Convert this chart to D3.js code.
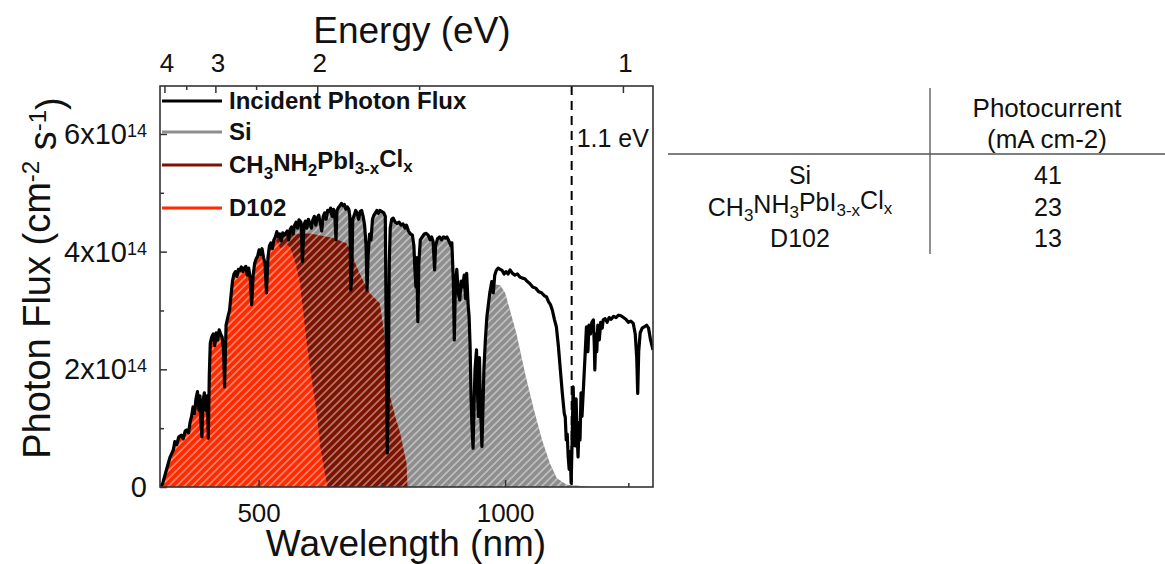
<!DOCTYPE html>
<html lang="en">
<meta charset="utf-8">
<head>
    <script src="https://d3js.org/d3.v7.min.js"></script>
</head>
<body style="margin:0;background:#fff">
<style>
    text { font-family: "Liberation Sans", Arial, sans-serif; fill: #111; }
</style>
<svg width="1165" height="564"></svg>
</body>

<script>
// wavelength (nm) and incident photon flux (x10^14 cm-2 s-1)
var wl = [300,305,310,315,320,327,330,334,338,343,347,351,354,358,361,364,367,370,373,376,379,381,383,385,387,390,393,396,398,400,
    402,405,408,411,414,417,420,423,426,429,431,434,438,441,444,447,450,453,456,459,462,465,468,471,474,477,480,483,486,489,
    492,495,498,501,504,507,510,513,516,519,522,525,528,531,534,537,540,543,546,549,552,555,558,561,564,567,570,573,576,579,
    582,586,589,592,595,598,601,604,607,610,613,616,619,622,625,628,631,634,637,640,643,646,649,652,655,657,659,662,665,668,
    671,674,677,680,683,685,687,689,691,694,697,700,703,706,709,712,715,718,720,722,725,728,731,734,737,740,743,746,750,754,
    757,759,761,763,765,767,770,773,777,781,785,789,793,797,800,804,808,812,815,817,819,821,823,825,828,832,836,840,844,848,
    851,854,857,859,863,867,871,875,879,882,886,890,892,895,897,899,902,905,908,911,914,917,920,922,925,927,929,931,933,935,
    937,939,942,944,946,948,950,953,955,957,960,963,966,969,973,976,979,982,986,990,994,998,1002,1006,1010,1015,1020,1025,1030,1035,
    1040,1044,1050,1056,1062,1068,1074,1080,1084,1088,1092,1096,1100,1104,1108,1112,1116,1120,1122,1124,1126,1128,1130,1132,1134,1136,
    1138,1140,1142,1144,1146,1148,1150,1152,1154,1156,1159,1162,1165,1168,1170,1173,1176,1179,1181,1182,1184,1186,1188,1191,1194,1197,
    1199,1203,1207,1211,1215,1220,1225,1230,1235,1240,1245,1250,1255,1260,1264,1267,1269,1271,1274,1278,1282,1287,1291,1295,1298,1300];
var flux = [0,0.05,0.2,0.35,0.5,0.63,0.77,0.72,0.85,0.88,0.82,0.95,0.97,0.92,1.1,1.2,1.36,1.25,1.5,1.62,1.3,1.55,1.1,0.85,1.45,1.6,1.3,1.55,0.83,1.9,
    2.45,2.55,2.6,2.4,2.62,2.5,2.67,2.6,2.55,2.3,1.7,2.75,2.9,3.0,3.25,3.5,3.62,3.66,3.58,3.7,3.68,3.74,3.66,3.72,3.75,3.6,3.72,3.55,3.1,3.6,
    3.8,3.88,3.92,4.03,3.95,4.05,3.9,3.8,3.3,3.9,4.1,4.15,4.05,4.2,4.25,4.34,4.25,4.3,4.18,4.32,4.28,4.31,4.35,4.2,4.38,4.42,4.3,4.45,4.5,4.4,
    4.54,4.5,3.83,4.45,4.52,4.4,4.55,4.48,4.4,4.54,4.6,4.45,4.58,4.62,4.5,4.35,4.6,4.66,4.55,4.7,4.68,4.74,4.6,4.72,4.55,4.2,4.7,4.75,4.78,4.82,
    4.78,4.8,4.72,4.76,4.72,4.6,3.35,3.6,4.55,4.62,4.7,4.65,4.55,4.68,4.7,4.6,4.45,4.1,3.35,3.9,4.3,4.2,4.55,4.62,4.66,4.7,4.65,4.7,4.68,4.66,
    4.6,2.5,0.58,1.5,3.8,4.4,4.55,4.57,4.5,4.48,4.5,4.45,4.47,4.4,4.45,4.35,4.3,4.28,4.1,3.7,3.4,3.9,2.81,3.8,4.2,4.25,4.3,4.31,4.28,4.2,
    4.25,4.17,3.69,4.1,4.22,4.25,4.2,4.25,4.23,4.25,4.18,4.1,4.15,3.5,2.5,3.4,3.7,3.3,3.18,3.5,3.4,3.6,3.2,3.63,3.1,2.89,2.4,1.5,1.0,0.66,
    1.4,2.0,2.33,1.6,1.2,2.2,1.4,0.69,1.3,2.0,2.5,2.89,3.1,3.3,3.49,3.3,3.6,3.68,3.72,3.7,3.68,3.62,3.66,3.62,3.69,3.63,3.6,3.62,3.57,3.55,
    3.54,3.5,3.46,3.4,3.38,3.32,3.3,3.25,3.23,3.15,3.1,3.0,2.85,2.72,2.4,2.0,1.6,1.25,1.19,0.8,0.9,0.51,0.3,0.6,0.07,0.8,
    1.7,1.2,0.7,1.5,0.9,0.51,1.1,0.8,1.6,1.2,1.7,2.2,2.72,2.3,2.75,2.6,2.8,2.84,2.4,1.99,2.6,2.3,2.75,2.5,2.8,2.7,
    2.84,2.86,2.8,2.88,2.85,2.9,2.88,2.92,2.91,2.88,2.85,2.8,2.82,2.78,2.6,2.2,1.59,2.3,2.62,2.7,2.72,2.75,2.7,2.5,2.4,2.33];

// upper limit of each absorber's share of the flux (x10^14)
var siEnvWl = [300,960,975,990,1000,1010,1023,1040,1057,1075,1091,1105,1125,1150,1170];
var siEnv   = [7,7,3.45,3.43,3.3,3.0,2.61,1.95,1.36,0.8,0.4,0.15,0.04,0.02,0];
var ptEnvWl = [300,550,560,604,651,679,690,699,712,726,746,755,767,777,787,795,800,802];
var ptEnv   = [7,7,4.3,4.31,4.23,4.14,3.95,3.74,3.5,3.29,3.12,2.6,1.53,1.2,0.92,0.6,0.41,0];
var dyeEnvWl = [300,525,535,545,557,564,575,584,597,604,618,625,633,640];
var dyeEnv   = [7,7,4.2,4.05,4.12,4.08,3.8,3.46,2.5,2.04,1.25,0.69,0.3,0];

var energyTicks = [4, 3, 2, 1];
var energyMinor = [3.5, 2.5, 1.5];
var wlTicks = [500, 1000];
var wlMinor = [750, 1250];
var fluxTicks = [0, 2, 4, 6];
var fluxMinor = [1, 3, 5];
var gapLabel = "1.1 eV";
var gapWl = 1135;

var seriesColors = ["#000000", "#8e8e8e", "#7c1200", "#ff2a00"];
var legendNames = [
    [["Incident Photon Flux", 0]],
    [["Si", 0]],
    [["CH", 0], ["3", 1], ["NH", 0], ["2", 1], ["PbI", 0], ["3-x", 1], ["Cl", 0], ["x", 1]],
    [["D102", 0]]
];
var tableNames = [
    [["Si", 0]],
    [["CH", 0], ["3", 1], ["NH", 0], ["3", 1], ["PbI", 0], ["3-x", 1], ["Cl", 0], ["x", 1]],
    [["D102", 0]]
];
var photocurrent = [41, 23, 13];

var svg = d3.select("svg");
var pL = 160, pR = 653, pT = 86, pB = 487;

var x = d3.scaleLinear().domain([300, 1300]).range([pL, pR]);
var y = d3.scaleLinear().domain([0, 6.815]).range([pB, pT]);

var pts = wl.map(function(d, i) { return [d, flux[i]]; });

// hatch pattern
var defs = svg.append("defs");
var pat = defs.append("pattern")
    .attr("id", "hatch")
    .attr("patternUnits", "userSpaceOnUse")
    .attr("width", 5.5).attr("height", 5.5)
    .attr("patternTransform", "rotate(45)");
pat.append("line")
    .attr("x1", 1).attr("y1", 0).attr("x2", 1).attr("y2", 5.5)
    .attr("stroke", "#fff").attr("stroke-width", 1).attr("stroke-opacity", 0.75);

defs.append("clipPath").attr("id", "plotclip")
    .append("rect").attr("x", pL).attr("y", pT).attr("width", pR - pL).attr("height", pB - pT);

var area = d3.area()
    .x(function(d) { return x(d[0]); })
    .y0(y(0))
    .y1(function(d) { return y(d[1]); });

function addEnvClip(id, ws, vs) {
    defs.append("clipPath").attr("id", id)
        .append("path")
        .attr("d", area(ws.map(function(d, i) { return [d, vs[i]]; })));
}
addEnvClip("siclip", siEnvWl, siEnv);
addEnvClip("ptclip", ptEnvWl, ptEnv);
addEnvClip("dyeclip", dyeEnvWl, dyeEnv);

var g = svg.append("g").attr("clip-path", "url(#plotclip)");

[["siclip", seriesColors[1]], ["ptclip", seriesColors[2]], ["dyeclip", seriesColors[3]]].forEach(function(s) {
    var layer = g.append("g").attr("clip-path", "url(#" + s[0] + ")");
    layer.append("path").attr("d", area(pts)).attr("fill", s[1]);
    layer.append("path").attr("d", area(pts)).attr("fill", "url(#hatch)");
});

// band gap marker
g.append("line")
    .attr("x1", x(gapWl)).attr("x2", x(gapWl))
    .attr("y1", pT).attr("y2", pB)
    .attr("stroke", "#000").attr("stroke-width", 2)
    .attr("stroke-dasharray", "9,6");

// incident photon flux
g.append("path")
    .datum(pts)
    .attr("fill", "none")
    .attr("stroke", "#000")
    .attr("stroke-width", 3.2)
    .attr("stroke-linejoin", "round")
    .attr("d", d3.line().x(function(d) { return x(d[0]); }).y(function(d) { return y(d[1]); }));

svg.append("text")
    .attr("x", x(gapWl) + 5).attr("y", 147)
    .attr("font-size", "25px")
    .text(gapLabel);

// frame
svg.append("rect")
    .attr("x", pL).attr("y", pT)
    .attr("width", pR - pL).attr("height", pB - pT)
    .attr("fill", "none").attr("stroke", "#333").attr("stroke-width", 1.6);

// bottom axis
var xAxis = svg.append("g")
    .attr("transform", "translate(0," + pB + ")")
    .call(d3.axisBottom(x).tickValues(wlTicks).tickSize(-7).tickPadding(17).tickFormat(d3.format("d")));
xAxis.selectAll("text").attr("font-size", "26px").attr("font-family", "Liberation Sans, Arial, sans-serif").attr("fill", "#111");
svg.append("g")
    .attr("transform", "translate(0," + pB + ")")
    .call(d3.axisBottom(x).tickValues(wlMinor).tickSize(-4).tickFormat(""));

// left axis
svg.append("g")
    .attr("transform", "translate(" + pL + ",0)")
    .call(d3.axisLeft(y).tickValues(fluxTicks).tickSize(-7).tickFormat(""));
svg.append("g")
    .attr("transform", "translate(" + pL + ",0)")
    .call(d3.axisLeft(y).tickValues(fluxMinor).tickSize(-4).tickFormat(""));
svg.selectAll(".domain").remove();
svg.selectAll(".tick line").attr("stroke", "#333").attr("stroke-width", 1.5);

var yLab = svg.append("g").selectAll("text")
    .data(fluxTicks)
    .enter().append("text")
    .attr("x", 147)
    .attr("y", function(d) { return y(d); })
    .attr("dy", "0.35em")
    .attr("text-anchor", "end")
    .attr("font-size", "29px");
yLab.each(function(d) {
    var t = d3.select(this);
    if (d === 0) { t.text("0"); return; }
    t.append("tspan").text(d + "x10");
    t.append("tspan").attr("dy", "-0.4em").attr("font-size", "18px").text("14");
});

// top axis (energy)
var tg = svg.append("g");
tg.selectAll(".emaj").data(energyTicks).enter().append("line")
    .attr("x1", function(d) { return x(1240 / d); }).attr("x2", function(d) { return x(1240 / d); })
    .attr("y1", pT).attr("y2", pT + 7)
    .attr("stroke", "#333").attr("stroke-width", 1.5);
tg.selectAll(".emin").data(energyMinor).enter().append("line")
    .attr("x1", function(d) { return x(1240 / d); }).attr("x2", function(d) { return x(1240 / d); })
    .attr("y1", pT).attr("y2", pT + 4)
    .attr("stroke", "#333").attr("stroke-width", 1.5);
tg.selectAll("text").data(energyTicks).enter().append("text")
    .attr("x", function(d) { return x(1240 / d) + 2; })
    .attr("y", 72)
    .attr("text-anchor", "middle")
    .attr("font-size", "26px")
    .text(function(d) { return d; });

// axis titles
svg.append("text")
    .attr("x", 412).attr("y", 43)
    .attr("text-anchor", "middle")
    .attr("font-size", "37px")
    .text("Energy (eV)");
svg.append("text")
    .attr("x", 406).attr("y", 556)
    .attr("text-anchor", "middle")
    .attr("font-size", "37px")
    .text("Wavelength (nm)");
var yt = svg.append("text")
    .attr("transform", "translate(50,278) rotate(-90)")
    .attr("text-anchor", "middle")
    .attr("font-size", "38px");
yt.append("tspan").text("Photon Flux (cm");
yt.append("tspan").attr("dy", "-0.45em").attr("font-size", "24px").text("-2");
yt.append("tspan").attr("dy", "0.45em").text(" s");
yt.append("tspan").attr("dy", "-0.45em").attr("font-size", "24px").text("-1");
yt.append("tspan").attr("dy", "0.45em").text(")");

function formula(sel, parts, subSize) {
    parts.forEach(function(p, i) {
        var prevSub = i > 0 && parts[i - 1][1];
        var sp = sel.append("tspan").text(p[0]);
        if (p[1] && !prevSub) sp.attr("dy", "0.3em").attr("font-size", subSize);
        else if (p[1]) sp.attr("font-size", subSize);
        else if (prevSub) sp.attr("dy", "-0.3em");
    });
}

// legend
var legY = [101, 132, 165, 208];
var leg = svg.append("g").selectAll("g")
    .data(legendNames)
    .enter().append("g")
    .attr("transform", function(d, i) { return "translate(0," + legY[i] + ")"; });
leg.append("line")
    .attr("x1", 162).attr("x2", 222)
    .attr("stroke", function(d, i) { return seriesColors[i]; })
    .attr("stroke-width", 3);
leg.append("text")
    .attr("x", 229).attr("dy", "0.35em")
    .attr("font-size", "24px").attr("font-weight", "bold")
    .each(function(d) { formula(d3.select(this), d, "17px"); });

// table
var tb = svg.append("g");
tb.append("line").attr("x1", 668).attr("x2", 1165).attr("y1", 154).attr("y2", 154)
    .attr("stroke", "#555").attr("stroke-width", 1.3);
tb.append("line").attr("x1", 930).attr("x2", 930).attr("y1", 88).attr("y2", 254)
    .attr("stroke", "#555").attr("stroke-width", 1.3);
tb.append("text").attr("x", 1047).attr("y", 108).attr("dy", "0.35em")
    .attr("text-anchor", "middle").attr("font-size", "26px").text("Photocurrent");
tb.append("text").attr("x", 1047).attr("y", 139).attr("dy", "0.35em")
    .attr("text-anchor", "middle").attr("font-size", "26px").text("(mA cm-2)");
var rowY = [175, 207, 238];
tb.selectAll(".nm").data(tableNames).enter().append("text")
    .attr("x", 800).attr("y", function(d, i) { return rowY[i]; }).attr("dy", "0.35em")
    .attr("text-anchor", "middle").attr("font-size", "25px")
    .each(function(d) { formula(d3.select(this), d, "17px"); });
tb.selectAll(".pc").data(photocurrent).enter().append("text")
    .attr("x", 1048).attr("y", function(d, i) { return rowY[i]; }).attr("dy", "0.35em")
    .attr("text-anchor", "middle").attr("font-size", "25px")
    .text(function(d) { return d; });
</script>
